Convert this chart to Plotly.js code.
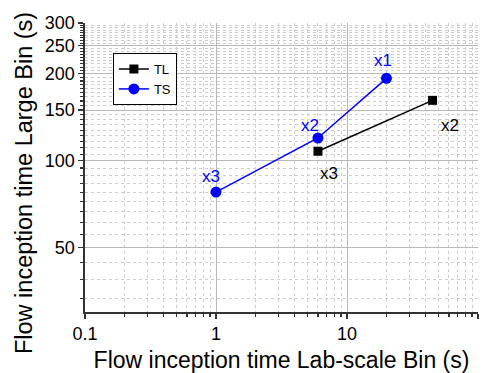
<!DOCTYPE html>
<html>
<head>
<meta charset="utf-8">
<script src="https://cdn.plot.ly/plotly-3.0.1.min.js"></script>
<style>html,body{margin:0;padding:0;background:#fff}#chart{width:492px;height:373px}</style>
</head>
<body>
<div id="chart"></div>
<script>
// ---- data ----
const tlX = [6, 45];
const tlY = [108, 162];
const tlLabels = ['x3', 'x2'];
const tsX = [1, 6, 20];
const tsY = [78, 120, 193];
const tsLabels = ['x3', 'x2', 'x1'];
const yTickVals = [50, 100, 150, 200, 250, 300];
const xTickVals = [0.1, 1, 10, 100];
const xTickText = ['0.1', '1', '10', '100'];
const xTitle = 'Flow inception time Lab-scale Bin (s)';
const yTitle = 'Flow inception time Large Bin (s)';

// ---- style ----
const FONT = 'Liberation Sans, Arial, sans-serif';
const tlShift = [[11, -22], [17, -25]];
const tsShift = [[-5, 16], [-8, 13], [-3, 18]];
const xMinor = [];
[0.1, 1, 10].forEach(d => { for (let k = 2; k <= 9; k++) xMinor.push(d * k); });
const yMinor = [];
for (let k = 6; k <= 54; k++) { if (k % 9 !== 0) yMinor.push(50 * k / 9); }

const traces = [
  {x: tlX, y: tlY, name: 'TL', mode: 'lines+markers', type: 'scatter',
   line: {color: '#000000', width: 1.5},
   marker: {symbol: 'square', size: 9, color: '#000000'}},
  {x: tsX, y: tsY, name: 'TS', mode: 'lines+markers', type: 'scatter',
   line: {color: '#0000FF', width: 1.5},
   marker: {symbol: 'circle', size: 11, color: '#0000FF'}}
];

const annotations = [];
tlX.forEach((v, i) => annotations.push({x: Math.log10(v), y: Math.log10(tlY[i]), xref: 'x', yref: 'y',
  text: tlLabels[i], showarrow: false, xshift: tlShift[i][0], yshift: tlShift[i][1],
  font: {family: FONT, size: 17, color: '#000000'}}));
tsX.forEach((v, i) => annotations.push({x: Math.log10(v), y: Math.log10(tsY[i]), xref: 'x', yref: 'y',
  text: tsLabels[i], showarrow: false, xshift: tsShift[i][0], yshift: tsShift[i][1],
  font: {family: FONT, size: 17, color: '#0000FF'}}));
// y-axis title (placed slightly below the plot centre as in the original)
annotations.push({xref: 'paper', yref: 'paper', x: -0.1565, y: 0.448, xanchor: 'center', yanchor: 'middle',
  text: yTitle, textangle: -90, showarrow: false, font: {family: FONT, size: 23.5, color: '#000000'}});

const axisCommon = {
  type: 'log', showline: true, linecolor: '#333', linewidth: 1.6,
  zeroline: false
};

const layout = {
  width: 492, height: 373,
  margin: {l: 85, r: 14, t: 23, b: 61},
  paper_bgcolor: '#ffffff', plot_bgcolor: '#ffffff',
  font: {family: FONT, color: '#000000'},
  showlegend: true,
  legend: {x: 0.071, y: 0.896, xanchor: 'left', yanchor: 'top',
    bordercolor: '#000000', borderwidth: 1, bgcolor: '#ffffff', itemwidth: 30,
    font: {family: FONT, size: 13}, tracegroupgap: 0},
  xaxis: Object.assign({}, axisCommon, {
    range: [-1, 2], tickvals: xTickVals, ticktext: xTickText,
    ticks: 'outside', ticklen: 5, tickwidth: 1.2, tickcolor: '#333',
    showgrid: true, gridcolor: '#b8b8b8', gridwidth: 1,
    tickfont: {family: FONT, size: 18},
    title: {text: xTitle, font: {family: FONT, size: 23}, standoff: 8},
    minor: {tickvals: xMinor, ticks: 'outside', ticklen: 3, tickcolor: '#333',
      showgrid: true, gridcolor: '#cccccc', griddash: 'dot', gridwidth: 1}
  }),
  yaxis: Object.assign({}, axisCommon, {
    range: [Math.log10(30), Math.log10(300)], tickvals: yTickVals,
    ticks: 'outside', ticklen: 5, tickwidth: 1.2, tickcolor: '#333',
    showgrid: true, gridcolor: '#b8b8b8', gridwidth: 1,
    tickfont: {family: FONT, size: 18},
    minor: {tickvals: yMinor, ticks: 'outside', ticklen: 3, tickcolor: '#333',
      showgrid: true, gridcolor: '#cccccc', griddash: 'dot', gridwidth: 1}
  }),
  xaxis2: Object.assign({}, axisCommon, {
    overlaying: 'x', side: 'top', anchor: 'y', range: [-1, 2], tickvals: xTickVals,
    showticklabels: false, ticks: 'inside', ticklen: 5, tickcolor: '#333', showgrid: false,
    minor: {tickvals: xMinor, ticks: 'inside', ticklen: 3, tickcolor: '#333', showgrid: false}
  }),
  yaxis2: Object.assign({}, axisCommon, {
    overlaying: 'y', side: 'right', anchor: 'x', range: [Math.log10(30), Math.log10(300)], tickvals: yTickVals,
    showticklabels: false, ticks: 'inside', ticklen: 5, tickcolor: '#333', showgrid: false,
    minor: {tickvals: yMinor, ticks: 'inside', ticklen: 3, tickcolor: '#333', showgrid: false}
  }),
  annotations: annotations
};

Plotly.newPlot('chart', traces, layout, {displayModeBar: false, staticPlot: true});
</script>
</body>
</html>
